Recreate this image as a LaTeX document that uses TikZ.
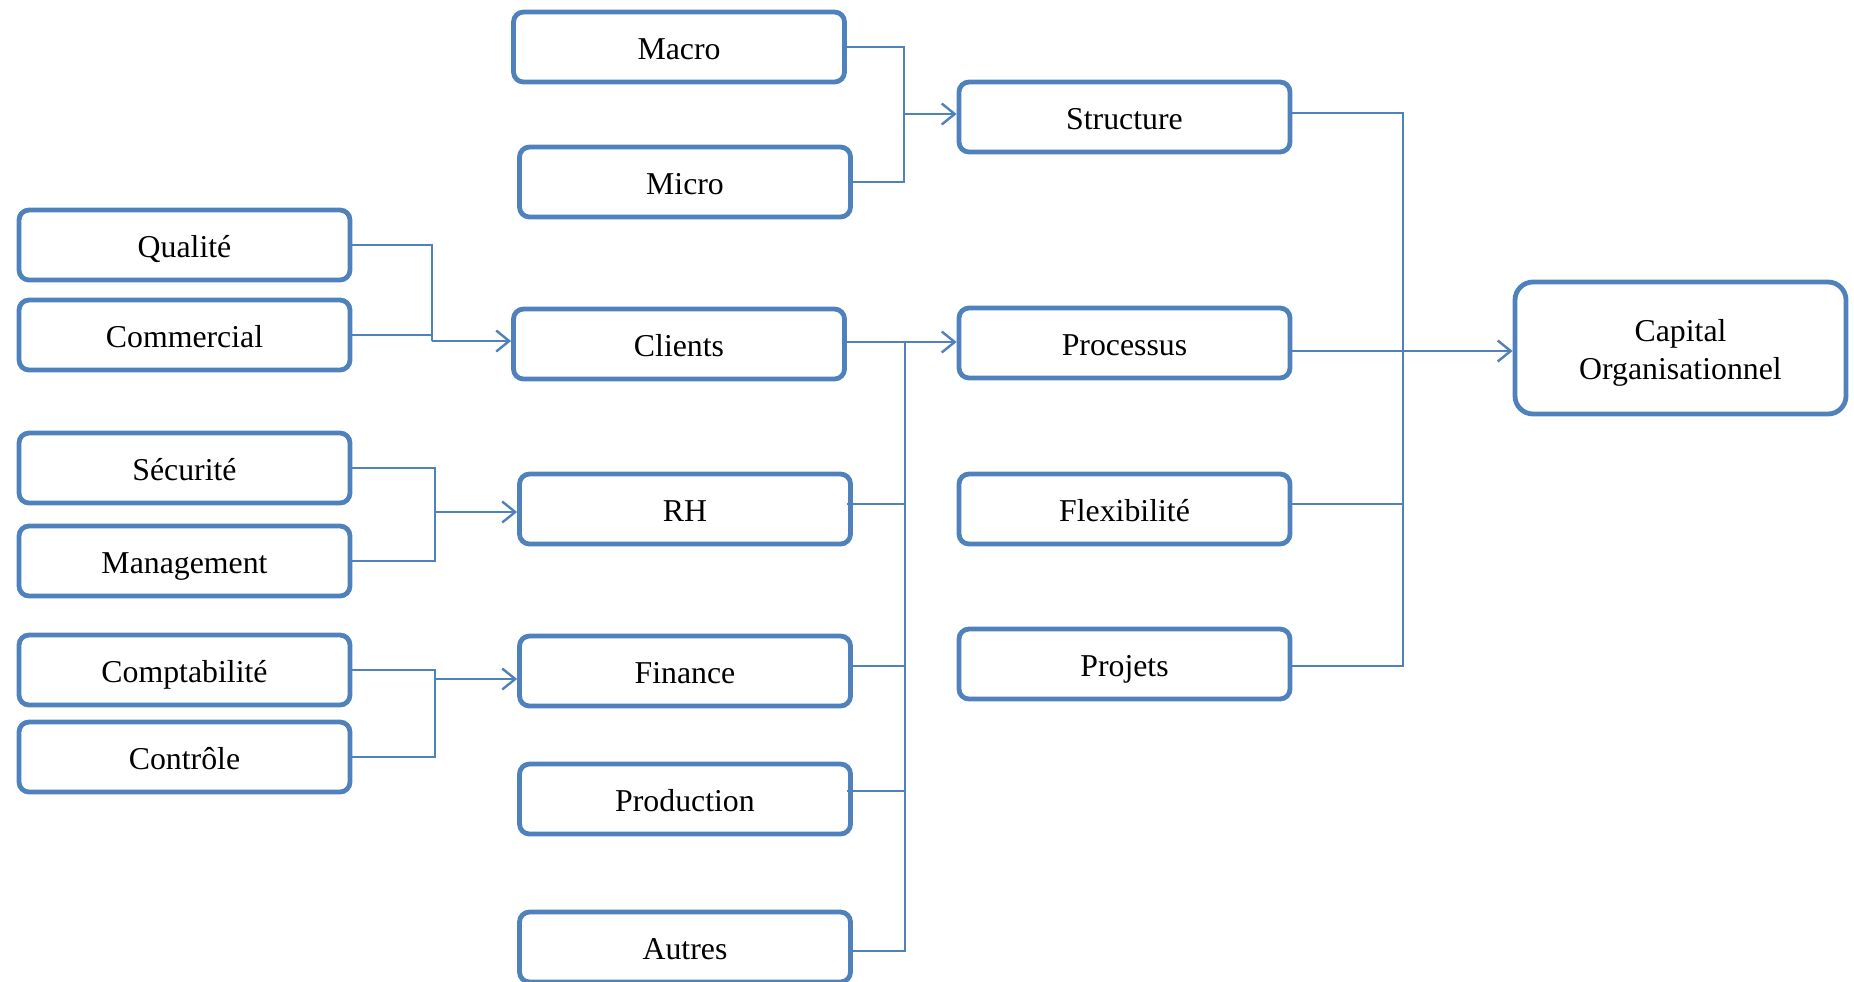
\documentclass[tikz,border=0pt]{standalone}
\usepackage{fontspec}
\setmainfont{Liberation Serif}
\usetikzlibrary{arrows.meta}
\definecolor{boxblue}{HTML}{4F81BD}
\begin{document}
\begin{tikzpicture}[x=0.5pt,y=-0.5pt,
  frame/.style={draw=boxblue, line width=2.4pt, rounded corners=5pt, fill=white,
    minimum width=165.5pt, minimum height=35pt, inner sep=0pt, align=center,
    font=\fontsize{15.9}{19}\selectfont},
  box/.style={frame, text height=12.5pt, text depth=0pt},
  conn/.style={draw=boxblue, line width=1.2pt},
  arr/.style={conn, -{Straight Barb[length=6.5pt,width=10.5pt,line width=1.2pt]}}]
\useasboundingbox (0,0) rectangle (1854,981);

% left column
\node[box] (qual) at (184.5,245) {Qualité};
\node[box] (comm) at (184.5,335) {Commercial};
\node[box] (secu) at (184.5,468) {Sécurité};
\node[box] (mana) at (184.5,561) {Management};
\node[box] (compt) at (184.5,670) {Comptabilité};
\node[box] (ctrl) at (184.5,757) {Contrôle};

% middle column
\node[box] (macro) at (679,47) {Macro};
\node[box] (micro) at (685,182) {Micro};
\node[box] (clients) at (679,344) {Clients};
\node[box] (rh) at (685,509) {RH};
\node[box] (fin) at (685,671) {Finance};
\node[box] (prod) at (685,799) {Production};
\node[box] (autres) at (685,947) {Autres};

% right column
\node[box] (struct) at (1124.5,117) {Structure};
\node[box] (proc) at (1124.5,343) {Processus};
\node[box] (flex) at (1124.5,509) {Flexibilité};
\node[box] (proj) at (1124.5,664) {Projets};

\node[frame, minimum height=66pt, rounded corners=9pt] (cap) at (1680.5,348)
  {\rule{0pt}{16pt}Capital\\Organisationnel};

% junction points
\coordinate (jStruct) at (904,114);
\coordinate (jClients) at (432,341);
\coordinate (jRH) at (435,512);
\coordinate (jFin) at (435,679);
\coordinate (jProc) at (905,342);
\coordinate (jCap) at (1403,351);

% Macro / Micro -> Structure
\draw[conn] (macro.east) -| (jStruct);
\draw[conn] (micro.east) -| (jStruct);
\draw[arr] (jStruct) -- (jStruct -| struct.west);

% Qualité / Commercial -> Clients
\draw[conn] (qual.east) -| (jClients);
\draw[conn] (comm.east) -| (jClients);
\draw[arr] (jClients) -- (jClients -| clients.west);

% Sécurité / Management -> RH
\draw[conn] (secu.east) -| (jRH);
\draw[conn] (mana.east) -| (jRH);
\draw[arr] (jRH) -- (jRH -| rh.west);

% Comptabilité / Contrôle -> Finance
\draw[conn] (compt.east) -| (jFin);
\draw[conn] (ctrl.east) -| (jFin);
\draw[arr] (jFin) -- (jFin -| fin.west);

% functions -> Processus
\draw[conn] (clients.east |- jProc) -- (jProc);
\draw[conn] ([xshift=-3pt]rh.east |- 0,504) -| (jProc);
\draw[conn] (fin.east |- 0,666) -| (jProc);
\draw[conn] ([xshift=-3pt]prod.east |- 0,791) -| (jProc);
\draw[conn] (autres.east |- 0,951) -| (jProc);
\draw[arr] (jProc) -- (jProc -| proc.west);

% pillars -> Capital Organisationnel
\draw[conn] (struct.east |- 0,113) -| (jCap);
\draw[conn] (proc.east |- jCap) -- (jCap);
\draw[conn] (flex.east |- 0,504) -| (jCap);
\draw[conn] (proj.east |- 0,666) -| (jCap);
\draw[arr] (jCap) -- (jCap -| cap.west);
\end{tikzpicture}
\end{document}
